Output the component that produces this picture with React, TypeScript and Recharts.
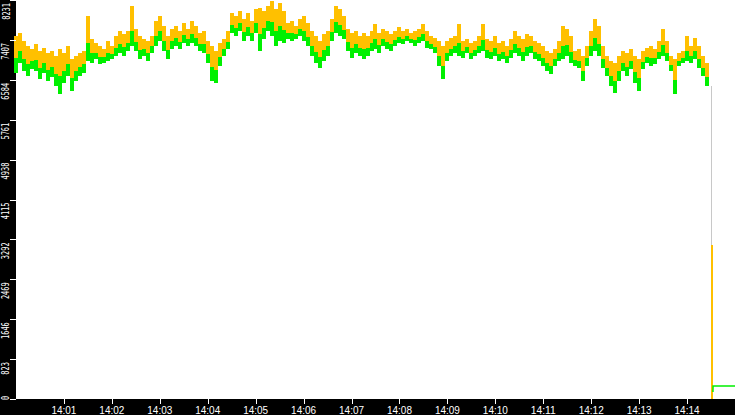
import React from 'react';
import { ComposedChart, Bar, Line, XAxis, YAxis, CartesianGrid } from 'recharts';

// 5-second samples from 14:00:00, yellow part = hi..mid, green part = mid..lo
const hi = [
  7490, 7550, 7390, 7280, 7220, 7330, 7180, 7240, 7140, 7180,
  7080, 7220, 7140, 7280, 7020, 7080, 7140, 7180, 7900, 7430,
  7350, 7280, 7220, 7390, 7280, 7490, 7590, 7530, 7590, 8110,
  7630, 7490, 7430, 7390, 7490, 7800, 7900, 7700, 7490, 7630,
  7700, 7590, 7760, 7630, 7800, 7700, 7550, 7590, 7390, 7280,
  7180, 7350, 7430, 7590, 7960, 7900, 8010, 7840, 7960, 7800,
  8050, 8070, 8010, 8110, 8210, 8050, 8170, 8010, 7760, 7800,
  7700, 7840, 7900, 7760, 7590, 7490, 7390, 7530, 7590, 7840,
  8110, 8050, 7900, 7630, 7550, 7590, 7490, 7550, 7490, 7590,
  7740, 7550, 7630, 7590, 7530, 7590, 7680, 7590, 7630, 7550,
  7590, 7630, 7740, 7590, 7490, 7450, 7390, 7280, 7390, 7450,
  7490, 7740, 7390, 7430, 7350, 7390, 7490, 7740, 7430, 7390,
  7490, 7350, 7390, 7280, 7430, 7590, 7490, 7430, 7530, 7490,
  7390, 7350, 7280, 7180, 7140, 7220, 7390, 7700, 7630, 7490,
  7180, 7220, 7080, 7280, 7590, 7840, 7700, 7280, 7080, 6980,
  6940, 7080, 7180, 7140, 7220, 7080, 7020, 7180, 7240, 7280,
  7220, 7390, 7630, 7390, 7080, 7020, 7140, 7180, 7490, 7280,
  7450, 7280, 7080, 6940,
];
const mid = [
  7040, 7180, 7020, 6910, 6980, 7000, 6830, 6940, 6790, 6850,
  6710, 6670, 6770, 6910, 6630, 6770, 6850, 6910, 7350, 7140,
  7140, 7060, 7060, 7140, 7120, 7240, 7330, 7260, 7350, 7590,
  7370, 7200, 7220, 7140, 7280, 7490, 7590, 7390, 7200, 7390,
  7450, 7370, 7510, 7430, 7530, 7450, 7330, 7330, 7120, 6850,
  6790, 7060, 7220, 7370, 7720, 7660, 7760, 7570, 7680, 7550,
  7760, 7530, 7660, 7800, 7780, 7590, 7700, 7610, 7550, 7550,
  7530, 7630, 7590, 7470, 7280, 7160, 7060, 7200, 7280, 7570,
  7780, 7720, 7610, 7370, 7240, 7330, 7240, 7220, 7240, 7350,
  7430, 7310, 7430, 7370, 7330, 7410, 7470, 7430, 7490, 7430,
  7410, 7470, 7530, 7390, 7330, 7260, 7080, 6870, 7140, 7220,
  7280, 7350, 7180, 7260, 7140, 7200, 7280, 7410, 7200, 7160,
  7240, 7120, 7160, 7080, 7200, 7330, 7240, 7160, 7260, 7280,
  7160, 7120, 7040, 6940, 6870, 7020, 7140, 7280, 7310, 7160,
  7000, 6980, 6770, 7040, 7280, 7450, 7330, 7020, 6830, 6670,
  6560, 6770, 6940, 6850, 6980, 6750, 6630, 6960, 7060, 7040,
  7040, 7160, 7310, 7140, 6890, 6590, 6980, 7040, 7180, 7080,
  7180, 7020, 6830, 6650,
];
const lo = [
  6730, 6940, 6770, 6670, 6810, 6770, 6610, 6730, 6560, 6650,
  6460, 6300, 6520, 6670, 6360, 6560, 6670, 6730, 6980, 6940,
  7020, 6910, 6940, 6980, 7020, 7080, 7140, 7080, 7180, 7280,
  7180, 7020, 7080, 6980, 7140, 7280, 7390, 7180, 7020, 7220,
  7280, 7220, 7350, 7280, 7350, 7280, 7180, 7140, 6940, 6560,
  6520, 6870, 7080, 7220, 7550, 7490, 7590, 7390, 7490, 7390,
  7550, 7180, 7430, 7590, 7490, 7280, 7390, 7350, 7430, 7390,
  7430, 7490, 7390, 7280, 7080, 6940, 6830, 6980, 7080, 7390,
  7550, 7490, 7430, 7180, 7040, 7140, 7080, 7020, 7080, 7180,
  7220, 7140, 7280, 7220, 7180, 7290, 7350, 7330, 7390, 7350,
  7290, 7350, 7390, 7240, 7220, 7140, 6870, 6610, 6980, 7080,
  7140, 7080, 7040, 7140, 7020, 7080, 7140, 7180, 7040, 7020,
  7080, 6980, 7020, 6940, 7040, 7140, 7080, 6980, 7080, 7140,
  7020, 6980, 6870, 6770, 6710, 6870, 6980, 7020, 7080, 6940,
  6870, 6830, 6560, 6870, 7080, 7180, 7080, 6830, 6670, 6460,
  6320, 6560, 6770, 6670, 6810, 6520, 6360, 6810, 6940, 6870,
  6910, 7020, 7080, 6980, 6770, 6300, 6870, 6930, 6980, 6940,
  7020, 6830, 6670, 6460,
];

// the final fall to zero
const dropTimes = [870, 871];
const dropHi = [6460, 3170];
const dropLo = [3170, 0];

// the flat green trace after the fall
const tailTimes = [872.4, 872.5, 900];
const tailValues = [144, 267, 267];

const yTicks = [0, 823, 1646, 2469, 3292, 4115, 4938, 5761, 6584, 7407, 8231];
const xTicks = [60, 120, 180, 240, 300, 360, 420, 480, 540, 600, 660, 720, 780, 840];
const xLabels = ['14:01', '14:02', '14:03', '14:04', '14:05', '14:06', '14:07', '14:08', '14:09', '14:10', '14:11', '14:12', '14:13', '14:14'];

const YELLOW = '#ffc000';
const GREEN = '#00f000';

const data: any[] = [
  ...hi.map((h, i) => ({ t: i * 5, kind: 'candle', hi: h, mid: mid[i], lo: lo[i], range: [lo[i], h] })),
  ...dropTimes.map((t, i) => ({ t, kind: 'drop', seg: i, hi: dropHi[i], mid: dropLo[i], lo: dropLo[i], range: [dropLo[i], dropHi[i]] })),
  ...tailTimes.map((t, i) => ({ t, tail: tailValues[i] })),
];

const Candle = (props: any) => {
  const { x, y, width, height, payload } = props;
  if (!payload || !payload.range || !isFinite(y) || !isFinite(height)) return <g />;
  const cx = x + width / 2;
  if (payload.kind === 'drop') {
    return payload.seg === 0 ? (
      <rect x={Math.round(cx - 0.5)} y={y} width={1} height={height} fill="#c8c8c8" shapeRendering="crispEdges" />
    ) : (
      <rect x={Math.round(cx - 0.5)} y={y} width={2} height={height} fill={YELLOW} shapeRendering="crispEdges" />
    );
  }
  const span = payload.hi - payload.lo;
  const my = span > 0 ? y + (height * (payload.hi - payload.mid)) / span : y;
  const left = Math.round(cx - 2);
  return (
    <g shapeRendering="crispEdges">
      <rect x={left} y={y} width={4} height={Math.max(my - y, 0)} fill={YELLOW} />
      <rect x={left} y={my} width={4} height={Math.max(y + height - my, 0)} fill={GREEN} />
    </g>
  );
};

const YTick = (props: any) => {
  const { y, payload } = props;
  const label = String(payload.value);
  const len = label.length * 4.2;
  const end = Math.max(3, Math.min(y + 3, 400 - len));
  return (
    <g>
      <line x1={10} x2={16} y1={Math.round(y) + 0.5} y2={Math.round(y) + 0.5} stroke="#fff" strokeWidth={1} />
      <text
        x={9.5}
        y={end}
        transform={`rotate(-90 9.5 ${end})`}
        textAnchor="end"
        fill="#fff"
        fontSize={10}
        fontFamily="DejaVu Sans Mono"
        textLength={len}
        lengthAdjust="spacingAndGlyphs"
      >
        {label}
      </text>
    </g>
  );
};

const XTick = (props: any) => {
  const { x, payload } = props;
  const idx = xTicks.indexOf(payload.value);
  const px = Math.round(x) + 0.5;
  return (
    <g>
      <line x1={px} x2={px} y1={399} y2={404} stroke="#fff" strokeWidth={1} />
      <text x={x} y={414} textAnchor="middle" fill="#fff" fontSize={10} fontFamily="Liberation Sans" textLength={25} lengthAdjust="spacingAndGlyphs">
        {idx >= 0 ? xLabels[idx] : ''}
      </text>
    </g>
  );
};

export default function App() {
  return (
    <div style={{ position: 'absolute', left: 0, top: 0, width: 735, height: 415, background: '#000' }}>
      <ComposedChart width={735} height={415} data={data} margin={{ top: 0, right: 0, left: 0, bottom: 0 }}>
        <CartesianGrid fill="#fff" horizontal={false} vertical={false} />
        <XAxis
          type="number"
          dataKey="t"
          domain={[0, 900]}
          ticks={xTicks}
          interval={0}
          height={16}
          axisLine={false}
          tickLine={false}
          tick={(p: any) => <XTick {...p} />}
        />
        <YAxis
          type="number"
          domain={[0, 8231]}
          ticks={yTicks}
          interval={0}
          width={16}
          axisLine={false}
          tickLine={false}
          tick={(p: any) => <YTick {...p} />}
        />
        <Bar dataKey="range" barSize={4} shape={(p: any) => <Candle {...p} />} isAnimationActive={false} />
        <Line dataKey="tail" type="linear" stroke={GREEN} strokeWidth={1.5} dot={false} connectNulls={false} isAnimationActive={false} />
      </ComposedChart>
    </div>
  );
}
